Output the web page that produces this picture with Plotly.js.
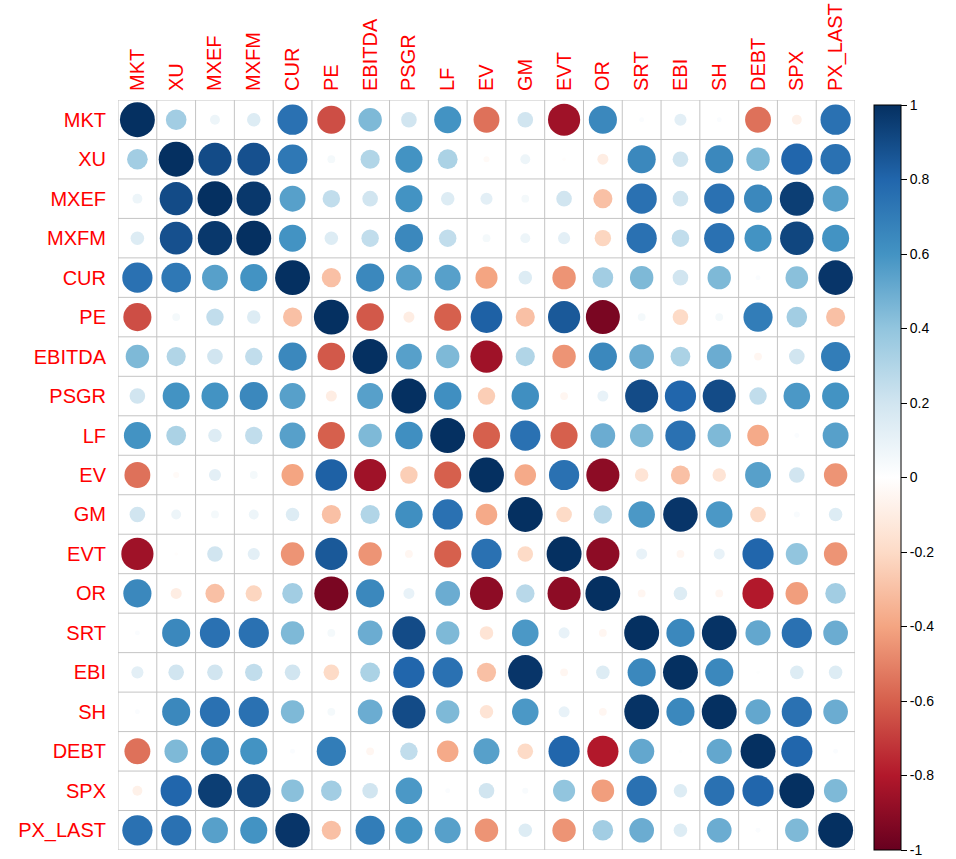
<!DOCTYPE html>
<html><head><meta charset="utf-8">
<script src="https://cdn.plot.ly/plotly-3.0.1.min.js"></script>
<style>html,body{margin:0;padding:0;background:#fff;} #chart{width:956px;height:859px;}</style>
</head><body><div id="chart"></div>
<script>
const labels = ["MKT","XU","MXEF","MXFM","CUR","PE","EBITDA","PSGR","LF","EV","GM","EVT","OR","SRT","EBI","SH","DEBT","SPX","PX_LAST"];

const r_MKT    = [1, 0.35, 0.08, 0.15, 0.75, -0.65, 0.45, 0.2, 0.6, -0.55, 0.2, -0.85, 0.65, 0.02, 0.12, 0.02, -0.55, -0.08, 0.75];
const r_XU     = [0.35, 1, 0.9, 0.88, 0.72, 0.05, 0.3, 0.6, 0.32, -0.03, 0.08, -0.01, -0.1, 0.65, 0.2, 0.65, 0.45, 0.8, 0.75];
const r_MXEF   = [0.08, 0.9, 1, 0.97, 0.55, 0.25, 0.2, 0.6, 0.15, 0.12, 0.05, 0.2, -0.3, 0.75, 0.2, 0.75, 0.65, 0.95, 0.55];
const r_MXFM   = [0.15, 0.88, 0.97, 1, 0.6, 0.15, 0.25, 0.65, 0.25, 0.05, 0.08, 0.12, -0.22, 0.75, 0.25, 0.75, 0.6, 0.92, 0.6];
const r_CUR    = [0.75, 0.72, 0.55, 0.6, 1, -0.3, 0.65, 0.55, 0.55, -0.4, 0.15, -0.45, 0.35, 0.45, 0.2, 0.45, 0.02, 0.42, 0.98];
const r_PE     = [-0.65, 0.05, 0.25, 0.15, -0.3, 1, -0.62, -0.1, -0.6, 0.82, -0.3, 0.85, -0.95, 0.05, -0.2, 0.05, 0.7, 0.35, -0.3];
const r_EBITDA = [0.45, 0.3, 0.2, 0.25, 0.65, -0.62, 1, 0.55, 0.45, -0.85, 0.3, -0.45, 0.65, 0.5, 0.32, 0.5, -0.05, 0.2, 0.7];
const r_PSGR   = [0.2, 0.6, 0.6, 0.65, 0.55, -0.1, 0.55, 1, 0.62, -0.25, 0.62, -0.05, 0.1, 0.9, 0.8, 0.9, 0.25, 0.58, 0.6];
const r_LF     = [0.6, 0.32, 0.15, 0.25, 0.55, -0.6, 0.45, 0.62, 1, -0.6, 0.75, -0.6, 0.5, 0.45, 0.75, 0.45, -0.38, 0.02, 0.55];
const r_EV     = [-0.55, -0.03, 0.12, 0.05, -0.4, 0.82, -0.85, -0.25, -0.6, 1, -0.38, 0.75, -0.9, -0.15, -0.3, -0.15, 0.55, 0.2, -0.45];
const r_GM     = [0.2, 0.08, 0.05, 0.08, 0.15, -0.3, 0.3, 0.62, 0.75, -0.38, 1, -0.2, 0.28, 0.58, 0.98, 0.58, -0.2, 0.03, 0.15];
const r_EVT    = [-0.85, -0.01, 0.2, 0.12, -0.45, 0.85, -0.45, -0.05, -0.6, 0.75, -0.2, 1, -0.9, 0.1, -0.05, 0.1, 0.8, 0.4, -0.45];
const r_OR     = [0.65, -0.1, -0.3, -0.22, 0.35, -0.95, 0.65, 0.1, 0.5, -0.9, 0.28, -0.9, 1, -0.05, 0.15, -0.05, -0.8, -0.42, 0.35];
const r_SRT    = [0.02, 0.65, 0.75, 0.75, 0.45, 0.05, 0.5, 0.9, 0.45, -0.15, 0.58, 0.1, -0.05, 1, 0.65, 0.99, 0.52, 0.75, 0.5];
const r_EBI    = [0.12, 0.2, 0.2, 0.25, 0.2, -0.2, 0.32, 0.8, 0.75, -0.3, 0.98, -0.05, 0.15, 0.65, 1, 0.65, 0.01, 0.15, 0.15];
const r_SH     = [0.02, 0.65, 0.75, 0.75, 0.45, 0.05, 0.5, 0.9, 0.45, -0.15, 0.58, 0.1, -0.05, 0.99, 0.65, 1, 0.52, 0.75, 0.5];
const r_DEBT   = [-0.55, 0.45, 0.65, 0.6, 0.02, 0.7, -0.05, 0.25, -0.38, 0.55, -0.2, 0.8, -0.8, 0.52, 0.01, 0.52, 1, 0.8, 0.02];
const r_SPX    = [-0.08, 0.8, 0.95, 0.92, 0.42, 0.35, 0.2, 0.58, 0.02, 0.2, 0.03, 0.4, -0.42, 0.75, 0.15, 0.75, 0.8, 1, 0.45];
const r_PXLAST = [0.75, 0.75, 0.55, 0.6, 0.98, -0.3, 0.7, 0.6, 0.55, -0.45, 0.15, -0.45, 0.35, 0.5, 0.15, 0.5, 0.02, 0.45, 1];

const rows = [r_MKT, r_XU, r_MXEF, r_MXFM, r_CUR, r_PE, r_EBITDA, r_PSGR, r_LF, r_EV, r_GM, r_EVT, r_OR, r_SRT, r_EBI, r_SH, r_DEBT, r_SPX, r_PXLAST];

const paletteRdBu = ["#67001F","#B2182B","#D6604D","#F4A582","#FDDBC7","#FFFFFF","#D1E5F0","#92C5DE","#4393C3","#2166AC","#053061"];
const cbTickVals = [-1,-0.8,-0.6,-0.4,-0.2,0,0.2,0.4,0.6,0.8,1];
const cbTickText = ["-1","-0.8","-0.6","-0.4","-0.2","0","0.2","0.4","0.6","0.8","1"];

const W = 956, H = 859;
const M = {l:118, r:101, t:100, b:9};
const n = labels.length;
const cellW = (W - M.l - M.r) / n;
const maxD = 0.9 * cellW;

const xs = [], ys = [], vals = [], sizes = [];
rows.forEach((row, i) => row.forEach((v, j) => {
  xs.push(j); ys.push(i); vals.push(v);
  sizes.push(maxD * Math.sqrt(Math.abs(v)));
}));

const colorscale = paletteRdBu.map((c, k) => [k / (paletteRdBu.length - 1), c]);

const shapes = [];
for (let k = 0; k <= n; k++) {
  shapes.push({type:'line', xref:'x', yref:'y', x0:k-0.5, x1:k-0.5, y0:-0.5, y1:n-0.5, line:{color:'#c4c4c4', width:1}, layer:'below'});
  shapes.push({type:'line', xref:'x', yref:'y', y0:k-0.5, y1:k-0.5, x0:-0.5, x1:n-0.5, line:{color:'#c4c4c4', width:1}, layer:'below'});
}

const trace = {
  type:'scatter', mode:'markers', x:xs, y:ys,
  marker:{
    size:sizes, sizemode:'diameter', color:vals, cmin:-1, cmax:1, opacity:1,
    colorscale:colorscale, line:{width:0},
    showscale:true,
    colorbar:{
      x:(874 - M.l) / (W - M.l - M.r), xanchor:'left', xref:'paper',
      y:1 - 5/(H - M.t - M.b), yanchor:'top', ypad:0, xpad:0,
      len:745, lenmode:'pixels', thickness:27, thicknessmode:'pixels',
      outlinewidth:1, outlinecolor:'#000',
      tickmode:'array', tickvals:cbTickVals, ticktext:cbTickText,
      ticks:'outside', ticklen:6, tickcolor:'#000',
      tickfont:{family:'Liberation Sans, Arial, sans-serif', size:14, color:'#000'}
    }
  },
  hoverinfo:'skip'
};

const axisFont = {family:'Liberation Sans, Arial, sans-serif', size:20, color:'#FF0000'};
const layout = {
  width:W, height:H, margin:M, showlegend:false,
  paper_bgcolor:'#fff', plot_bgcolor:'#fff',
  xaxis:{side:'top', range:[-0.5, n-0.5], tickmode:'array', tickvals:labels.map((_, i) => i), ticktext:labels,
    tickangle:-90, tickfont:axisFont, showgrid:false, zeroline:false, showline:false,
    ticks:'outside', ticklen:4, tickcolor:'rgba(0,0,0,0)', fixedrange:true},
  yaxis:{range:[n-0.5, -0.5], tickmode:'array', tickvals:labels.map((_, i) => i), ticktext:labels,
    tickfont:axisFont, showgrid:false, zeroline:false, showline:false,
    ticks:'outside', ticklen:7, tickcolor:'rgba(0,0,0,0)', fixedrange:true},
  shapes:shapes
};

Plotly.newPlot('chart', [trace], layout, {displayModeBar:false, staticPlot:true});
</script>
</body></html>
